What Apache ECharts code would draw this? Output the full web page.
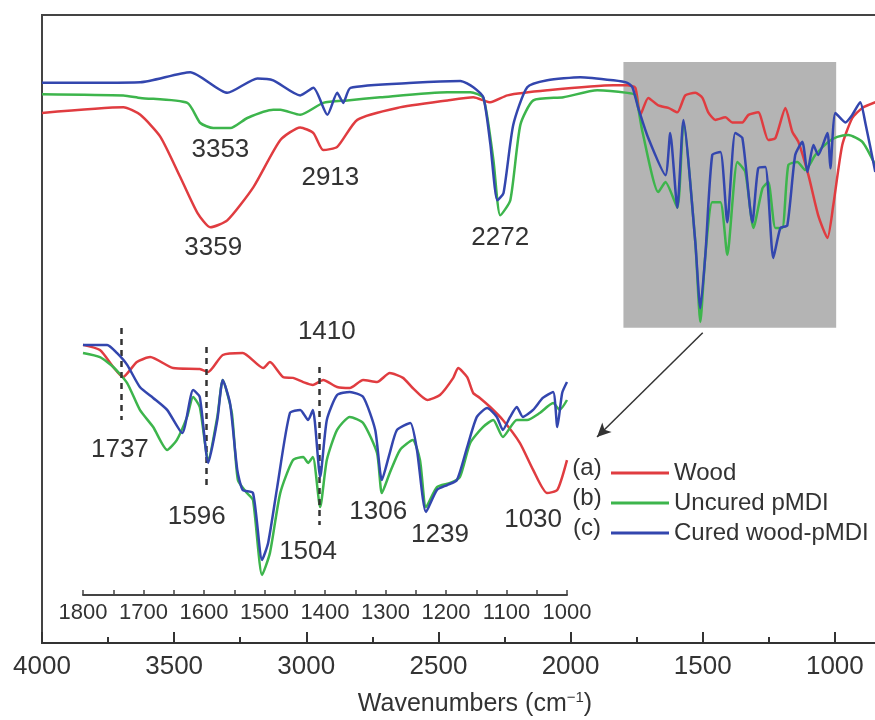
<!DOCTYPE html>
<html>
<head>
<meta charset="utf-8">
<script src="https://cdn.jsdelivr.net/npm/echarts@6/dist/echarts.min.js"></script>
<style>
  html, body { margin: 0; padding: 0; background: #fff; }
  #chart { width: 875px; height: 720px; }
</style>
</head>
<body>
<div id="chart"></div>
<script>
// full spectra, [wavenumber, transmittance]
const wood = [
  [4000, 84.4], [3692, 85.3], [3628, 84.1], [3552, 80.6], [3477, 74.2], [3412, 68.5],
  [3363, 66.2], [3299, 67.3], [3200, 72.6], [3098, 80.1], [3023, 82.1], [2973, 81.2],
  [2936, 78.5], [2883, 79.0], [2807, 83.3], [2656, 85.2], [2466, 86.4], [2368, 86.9],
  [2304, 86.1], [2239, 87.2], [2088, 88.0], [1838, 88.8], [1785, 88.8], [1755, 88.4],
  [1736, 84.1], [1706, 86.8], [1668, 85.6], [1630, 85.2], [1596, 84.5], [1566, 87.2],
  [1528, 87.6], [1501, 86.8], [1479, 84.5], [1452, 83.3], [1414, 83.7], [1388, 82.9],
  [1350, 82.9], [1327, 84.1], [1290, 84.5], [1252, 80.1], [1225, 80.4], [1187, 85.2],
  [1161, 81.4], [1138, 79.8], [1100, 74.5], [1063, 68.1], [1028, 64.5], [1006, 69.7],
  [972, 79.3], [934, 83.6], [896, 85.2], [847, 86.1]
];
const uncured = [
  [4000, 87.4], [3692, 87.2], [3628, 86.8], [3450, 86.0], [3401, 82.8], [3352, 82.0],
  [3287, 82.0], [3223, 83.6], [3125, 84.9], [3098, 84.9], [3023, 84.1], [2936, 86.0],
  [2845, 86.4], [2720, 86.9], [2466, 87.7], [2379, 87.7], [2330, 86.8], [2292, 76.9],
  [2266, 68.1], [2228, 70.5], [2190, 82.5], [2141, 86.4], [2027, 86.9], [1899, 88.0],
  [1785, 87.6], [1755, 87.2], [1728, 81.4], [1668, 71.8], [1641, 73.4], [1596, 69.3],
  [1573, 82.9], [1528, 63.8], [1509, 51.1], [1490, 61.8], [1464, 70.2], [1433, 70.2],
  [1407, 61.8], [1369, 76.6], [1339, 75.0], [1308, 66.1], [1274, 72.4], [1252, 73.4],
  [1225, 66.1], [1199, 66.1], [1176, 76.1], [1142, 76.6], [1112, 75.3], [1074, 77.7],
  [1025, 79.8], [991, 80.6], [949, 80.9], [896, 79.8], [847, 76.1]
];
const cured = [
  [4000, 89.2], [3628, 89.3], [3439, 90.9], [3299, 87.6], [3185, 89.9], [3125, 89.6],
  [3023, 87.2], [2973, 88.4], [2920, 84.1], [2883, 87.6], [2860, 86.0], [2833, 88.4],
  [2595, 89.2], [2417, 89.5], [2368, 88.5], [2330, 86.9], [2304, 79.6], [2277, 70.5],
  [2254, 71.6], [2217, 82.5], [2164, 88.5], [2088, 89.6], [1963, 90.1], [1838, 89.6],
  [1785, 89.2], [1766, 88.5], [1744, 85.2], [1706, 80.4], [1641, 74.5], [1623, 81.2],
  [1596, 69.3], [1573, 83.3], [1528, 63.8], [1509, 53.3], [1490, 61.8], [1464, 77.7],
  [1433, 78.2], [1407, 67.0], [1377, 81.2], [1350, 80.4], [1312, 67.0], [1290, 75.6],
  [1263, 75.8], [1233, 61.3], [1206, 66.1], [1180, 66.5], [1150, 77.7], [1123, 79.8],
  [1104, 75.0], [1081, 79.3], [1063, 77.7], [1028, 81.2], [1017, 75.6], [998, 84.4],
  [960, 82.9], [934, 84.1], [904, 86.1], [885, 82.9], [847, 75.0]
];

// zoomed 1800-1000 region (inset)
const insetWood = [
  [1800, 96.2], [1772, 94.2], [1750, 87.7], [1734, 83.8], [1711, 89.6], [1689, 91.5],
  [1651, 87.3], [1607, 86.9], [1593, 85.8], [1569, 92.3], [1536, 93.1], [1502, 87.3],
  [1491, 89.6], [1469, 83.8], [1453, 83.5], [1436, 81.9], [1420, 80.8], [1403, 82.7],
  [1380, 80.0], [1359, 79.6], [1337, 82.7], [1314, 81.9], [1293, 85.4], [1271, 83.5],
  [1255, 79.6], [1231, 75.0], [1210, 76.9], [1188, 83.5], [1180, 87.3], [1165, 83.8],
  [1155, 77.7], [1144, 75.8], [1127, 72.3], [1106, 67.3], [1078, 58.5], [1056, 48.1],
  [1033, 39.2], [1016, 40.4], [1000, 51.9]
];
const insetUncured = [
  [1800, 93.1], [1772, 91.5], [1750, 87.7], [1727, 81.5], [1706, 71.2], [1684, 64.6],
  [1661, 55.8], [1645, 59.6], [1628, 68.5], [1618, 76.2], [1607, 72.3], [1593, 51.9],
  [1578, 68.5], [1569, 82.7], [1554, 70.0], [1544, 44.2], [1529, 39.2], [1519, 36.5],
  [1504, 7.7], [1491, 16.2], [1474, 39.2], [1453, 51.9], [1436, 53.1], [1428, 50.8],
  [1420, 53.1], [1408, 33.8], [1397, 51.9], [1380, 63.5], [1359, 68.5], [1337, 66.2],
  [1314, 54.6], [1306, 39.2], [1293, 46.9], [1276, 55.8], [1255, 59.6], [1243, 51.9],
  [1233, 33.8], [1215, 41.5], [1193, 43.1], [1177, 45.4], [1160, 58.5], [1139, 64.6],
  [1122, 67.3], [1106, 60.8], [1083, 67.3], [1066, 67.3], [1045, 70.0], [1023, 73.8],
  [1012, 71.2], [1000, 75.0]
];
const insetCured = [
  [1800, 96.2], [1760, 96.2], [1744, 93.1], [1727, 88.5], [1706, 80.0], [1684, 75.8],
  [1661, 71.2], [1636, 62.3], [1618, 78.8], [1607, 76.2], [1593, 50.8], [1578, 67.3],
  [1569, 82.7], [1557, 73.8], [1545, 48.1], [1536, 40.4], [1519, 39.2], [1504, 13.5],
  [1494, 20.0], [1479, 41.5], [1458, 70.0], [1441, 71.2], [1428, 67.3], [1420, 71.2],
  [1408, 45.4], [1397, 67.3], [1380, 76.9], [1359, 78.1], [1337, 76.2], [1317, 63.5],
  [1306, 44.2], [1293, 54.6], [1281, 63.5], [1259, 66.2], [1248, 55.8], [1233, 31.9],
  [1215, 40.4], [1198, 42.3], [1182, 44.2], [1165, 56.9], [1149, 68.5], [1132, 71.9],
  [1116, 68.5], [1106, 63.5], [1094, 68.5], [1083, 72.3], [1073, 68.5], [1056, 71.2],
  [1040, 75.8], [1023, 78.1], [1016, 64.6], [1008, 77.7], [1000, 81.9]
];

const seriesNames = ['Wood', 'Uncured pMDI', 'Cured wood-pMDI'];
const seriesTags = ['(a)', '(b)', '(c)'];
const colors = ['#e03c40', '#3db54c', '#3346ae'];

// peak labels: text, wavenumber, transmittance, grid
const peakLabels = [
  ['3353', 3325, 78.5, 0], ['3359', 3352, 62.9, 0], ['2913', 2909, 74.0, 0], ['2272', 2266, 64.5, 0],
  ['1737', 1739, 55.8, 1], ['1596', 1612, 30.0, 1], ['1410', 1397, 101.2, 1], ['1504', 1428, 16.5, 1],
  ['1306', 1312, 31.9, 1], ['1239', 1210, 23.1, 1], ['1030', 1056, 28.8, 1]
];
// dashed guides in the inset: wavenumber, top, bottom
const guides = [[1737, 102.7, 67.3], [1596, 95.4, 41.5], [1410, 87.7, 26.9]];
const zoomBox = [1800, 995, 50.2, 92.5];

const font = 'Liberation Sans, Arial, sans-serif';

const lineSeries = (name, data, i, grid) => ({
  name: name,
  type: 'line',
  xAxisIndex: grid,
  yAxisIndex: grid,
  data: data,
  showSymbol: false,
  smooth: 0.2,
  lineStyle: { color: colors[i], width: 2.5 },
  itemStyle: { color: colors[i] },
  z: 3 + i
});

const chart = echarts.init(document.getElementById('chart'));

const series = [
  lineSeries(seriesNames[0], wood, 0, 0),
  lineSeries(seriesNames[1], uncured, 1, 0),
  lineSeries(seriesNames[2], cured, 2, 0),
  lineSeries(seriesNames[0], insetWood, 0, 1),
  lineSeries(seriesNames[1], insetUncured, 1, 1),
  lineSeries(seriesNames[2], insetCured, 2, 1),
  {
    type: 'line', xAxisIndex: 0, yAxisIndex: 0, data: [], z: 1,
    markArea: {
      silent: true,
      itemStyle: { color: '#b4b4b4', opacity: 1 },
      data: [[{ coord: [zoomBox[0], zoomBox[3]] }, { coord: [zoomBox[1], zoomBox[2]] }]]
    },
    markLine: {
      silent: true,
      symbol: ['none', 'arrow'],
      symbolSize: [10, 14],
      lineStyle: { color: '#333', width: 1.5, type: 'solid' },
      label: { show: false },
      data: [[{ coord: [1500, 49.4] }, { coord: [1900, 32.8] }]]
    }
  },
  {
    type: 'line', xAxisIndex: 1, yAxisIndex: 1, data: [], z: 2,
    markLine: {
      silent: true,
      symbol: 'none',
      lineStyle: { color: '#333', width: 2.5, type: [6, 5] },
      label: { show: false },
      data: guides.map(g => [{ coord: [g[0], g[1]] }, { coord: [g[0], g[2]] }])
    }
  }
];

chart.setOption({
  animation: false,
  backgroundColor: '#fff',
  textStyle: { fontFamily: font },
  grid: [
    { left: 42, top: 15, width: 925, bottom: 77, show: true, borderColor: '#444', borderWidth: 2, outerBoundsMode: 'none' },
    { left: 83, top: 322, width: 484, bottom: 125, outerBoundsMode: 'none' }
  ],
  xAxis: [
    {
      type: 'value', gridIndex: 0, min: 500, max: 4000, interval: 500, inverse: true,
      axisLine: { lineStyle: { color: '#333', width: 2 } },
      axisTick: { inside: true, length: 11, lineStyle: { color: '#333', width: 2 } },
      minorTick: { show: true, splitNumber: 2, length: 6, lineStyle: { color: '#333', width: 2 } },
      splitLine: { show: false },
      axisLabel: { fontSize: 26, color: '#333', margin: 11, fontFamily: font, formatter: v => String(v) }
    },
    {
      type: 'value', gridIndex: 1, min: 1000, max: 1800, interval: 100, inverse: true,
      axisLine: { lineStyle: { color: '#444', width: 2 } },
      axisTick: { inside: true, length: 5, lineStyle: { color: '#444', width: 1.5 } },
      minorTick: { show: true, splitNumber: 2, length: 5, lineStyle: { color: '#444', width: 1.5 } },
      splitLine: { show: false },
      axisLabel: { fontSize: 22, color: '#333', margin: 7, interval: 0, fontFamily: font, formatter: v => String(v) }
    }
  ],
  yAxis: [
    { type: 'value', gridIndex: 0, min: 0, max: 100, show: false },
    { type: 'value', gridIndex: 1, min: 0, max: 105, show: false }
  ],
  legend: {
    data: seriesNames,
    orient: 'vertical',
    left: 606,
    top: 456,
    icon: 'rect',
    itemWidth: 58,
    itemHeight: 3,
    itemGap: 6,
    selectedMode: false,
    textStyle: { fontSize: 24, color: '#333', lineHeight: 24, fontFamily: font }
  },
  series: series
});

const graphics = peakLabels.map(p => {
  const pt = chart.convertToPixel({ gridIndex: p[3] }, [p[1], p[2]]);
  return {
    type: 'text', x: pt[0], y: pt[1], z: 10,
    style: { text: p[0], fill: '#333', font: '26px ' + font, textAlign: 'center', textVerticalAlign: 'middle' }
  };
});
seriesTags.forEach((t, i) => {
  graphics.push({
    type: 'text', x: 587, y: 468 + i * 30, z: 10,
    style: { text: t, fill: '#333', font: '24px ' + font, textAlign: 'center', textVerticalAlign: 'middle' }
  });
});
graphics.push({
  type: 'text', x: 475, y: 704, z: 10,
  style: {
    text: '{a|Wavenumbers (cm}{s|−1}{a|)}',
    textAlign: 'center', textVerticalAlign: 'middle',
    rich: {
      a: { fontSize: 25, fontFamily: font, fill: '#333' },
      s: { fontSize: 15, fontFamily: font, fill: '#333', padding: [0, 0, 12, 0] }
    }
  }
});

chart.setOption({ graphic: graphics });
</script>
</body>
</html>
